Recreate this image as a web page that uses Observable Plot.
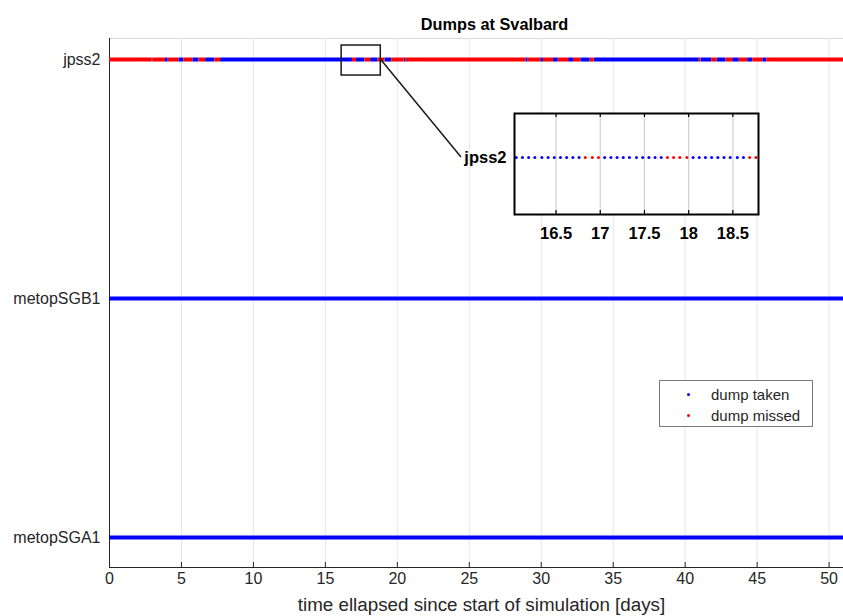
<!DOCTYPE html>
<html>
<head>
<meta charset="utf-8">
<script src="https://cdn.jsdelivr.net/npm/d3@7"></script>
<script src="https://cdn.jsdelivr.net/npm/@observablehq/plot@0.6"></script>
<style>
  body { margin: 0; background: white; }
  #wrap { position: relative; width: 843px; height: 616px; font-family: "Liberation Sans", Arial, sans-serif; }
  #wrap svg { position: absolute; overflow: visible; }
  #legend { position: absolute; left: 659px; top: 380px; width: 154px; height: 47px; border: 1px solid #7a7a7a; background: white; box-sizing: border-box; font-size: 15px; color: #262626; }
  #legend .row { position: absolute; left: 0; height: 18px; line-height: 18px; }
  #legend .dot { position: absolute; left: 27px; top: 7px; width: 3px; height: 3px; border-radius: 50%; }
  #legend .lab { position: absolute; left: 51px; top: 0; white-space: nowrap; }
</style>
</head>
<body>
<div id="wrap"></div>
<script>
// ---------------- data ----------------
const title = "Dumps at Svalbard";
const xLabel = "time ellapsed since start of simulation [days]";
const sats = ["metopSGA1", "metopSGB1", "jpss2"];
const xTicks = [0, 5, 10, 15, 20, 25, 30, 35, 40, 45, 50];
const xDomain = [0, 51];

// jpss2: runs of missed / taken dumps [start, end] in days
const jpss2Missed = [[0, 2.95], [3.0, 3.89], [4.08, 4.82], [5.17, 5.79], [6.21, 6.68], [7.32, 7.72],
  [16.88, 17.16], [17.75, 18.15], [18.66, 19.14], [19.61, 20.47], [20.58, 28.93],
  [29.09, 29.97], [30.15, 30.85], [31.18, 31.9], [32.24, 32.75], [33.4, 33.68],
  [40.98, 41.1], [41.84, 42.21], [42.84, 43.3], [43.76, 44.34], [44.69, 45.39], [45.67, 51]];
const jpss2Taken = [[2.95, 3.0], [3.89, 4.08], [4.82, 5.17], [5.79, 6.21], [6.68, 7.32], [7.72, 16.88],
  [17.16, 17.75], [18.15, 18.66], [19.14, 19.61], [20.47, 20.58], [28.93, 29.09],
  [29.97, 30.15], [30.85, 31.18], [31.9, 32.24], [32.75, 33.4], [33.68, 40.98],
  [41.1, 41.84], [42.21, 42.84], [43.3, 43.76], [44.34, 44.69], [45.39, 45.67]];
const metopSGB1Taken = [[0, 51]];
const metopSGA1Taken = [[0, 51]];

// zoomed window
const zoomBoxX = [16.13, 18.85];
const insetDomain = [16.03, 18.79];
const insetTicks = [16.5, 17, 17.5, 18, 18.5];
const insetTimes = [16.05, 16.12, 16.19, 16.26, 16.34, 16.41, 16.48, 16.55, 16.62, 16.69, 16.76,
  16.83, 16.91, 16.98,
  17.05, 17.12, 17.19, 17.26, 17.33, 17.41, 17.48, 17.55, 17.62, 17.69,
  17.76, 17.83, 17.90, 17.98,
  18.05, 18.12, 18.19, 18.26, 18.33, 18.40, 18.47, 18.55, 18.62,
  18.69, 18.76];
const insetStatus = ["taken","taken","taken","taken","taken","taken","taken","taken","taken","taken","taken",
  "missed","missed","missed",
  "taken","taken","taken","taken","taken","taken","taken","taken","taken","taken",
  "missed","missed","missed","missed",
  "taken","taken","taken","taken","taken","taken","taken","taken","taken",
  "missed","missed"];

const legendItems = ["dump taken", "dump missed"];
const colors = {taken: "#0000ff", missed: "#ff0000"};

// ---------------- build tables ----------------
const segs = [];
const addSegs = (arr, sat, status) => arr.forEach(([a, b]) => segs.push({sat, y: sats.indexOf(sat) + 1, x1: a, x2: b, status}));
addSegs(metopSGA1Taken, "metopSGA1", "taken");
addSegs(metopSGB1Taken, "metopSGB1", "taken");
addSegs(jpss2Taken, "jpss2", "taken");
addSegs(jpss2Missed, "jpss2", "missed");
const insetPts = insetTimes.map((t, i) => ({t, status: insetStatus[i]}));
const jY = sats.indexOf("jpss2") + 1;

const font = "'Liberation Sans', Arial, Helvetica, sans-serif";
const W = 843, H = 616, mL = 109, mR = 0, mT = 38, mB = 49;
const innerH = H - mT - mB;

const main = Plot.plot({
  width: W, height: H,
  marginLeft: mL, marginRight: mR, marginTop: mT, marginBottom: mB,
  style: {fontFamily: font, background: "transparent", overflow: "visible"},
  x: {domain: xDomain},
  y: {domain: [0.874, 3.088]},
  marks: [
    Plot.frame({anchor: "top", stroke: "#d9d9d9"}),
    Plot.gridX(xTicks, {stroke: "#e6e6e6", strokeOpacity: 1, strokeWidth: 1}),
    Plot.ruleX(xTicks, {stroke: "#262626", insetTop: innerH - 5}),
    Plot.frame({anchor: "left", stroke: "#262626"}),
    Plot.frame({anchor: "bottom", stroke: "#262626"}),
    Plot.ruleY(segs, {y: "y", x1: "x1", x2: "x2", stroke: d => colors[d.status], strokeWidth: 4}),
    Plot.rect([zoomBoxX], {x1: d => d[0], x2: d => d[1], y1: jY, y2: jY, insetTop: -14, insetBottom: -16, stroke: "#1a1a1a", strokeWidth: 1.5, fill: "none"}),
    Plot.axisX(xTicks, {tickSize: 0, tickPadding: 5, fontSize: 16, color: "#262626", label: null}),
    Plot.axisY([1, 2, 3], {tickSize: 0, tickPadding: 9, fontSize: 16, color: "#262626", tickFormat: i => sats[i - 1], label: null}),
    Plot.text([title], {frameAnchor: "top", dx: 18, dy: -20, fontSize: 16.3, fontWeight: "bold", fill: "#000"}),
    Plot.text([xLabel], {frameAnchor: "bottom", dx: 5, dy: 43, fontSize: 18.8, fill: "#262626"})
  ]
});

// inset
const iL = 60, iR = 5, iT = 5, iB = 36, iW = 244, iH = 101;
const inset = Plot.plot({
  width: iL + iW + iR, height: iT + iH + iB,
  marginLeft: iL, marginRight: iR, marginTop: iT, marginBottom: iB,
  style: {fontFamily: font, background: "transparent", overflow: "visible"},
  x: {domain: insetDomain},
  y: {domain: [0.43, 1.44]},
  marks: [
    Plot.frame({fill: "white", stroke: null}),
    Plot.gridX(insetTicks, {stroke: "#d0d0d0", strokeOpacity: 1, strokeWidth: 1.2}),
    Plot.ruleX(insetTicks, {stroke: "#000", insetTop: iH - 4, strokeWidth: 1.2}),
    Plot.ruleX(insetTicks, {stroke: "#000", insetBottom: iH - 4, strokeWidth: 1.2}),
    Plot.dot(insetPts, {x: "t", y: () => 1, r: 1.5, fill: d => colors[d.status], stroke: null}),
    Plot.frame({stroke: "#000", strokeWidth: 2}),
    Plot.axisX(insetTicks, {tickSize: 0, tickPadding: 13, fontSize: 16.5, fontWeight: "bold", color: "#000", tickFormat: d => String(d), label: null}),
    Plot.axisY([1], {tickSize: 0, tickPadding: 8, fontSize: 16.5, fontWeight: "bold", color: "#000", tickFormat: () => "jpss2", label: null})
  ]
});

const wrap = document.getElementById("wrap");
main.style.left = "0px"; main.style.top = "0px";
wrap.appendChild(main);
const insetLeft = 514 - iL, insetTop = 113 - iT;
inset.style.left = insetLeft + "px"; inset.style.top = insetTop + "px";
wrap.appendChild(inset);

// connector line from zoom box to inset label
const sx = main.scale("x"), sy = main.scale("y");
const ex = insetLeft + iL - 53, ey = insetTop + inset.scale("y").apply(1);
d3.select(main).append("line")
  .attr("x1", sx.apply(zoomBoxX[1])).attr("y1", sy.apply(jY))
  .attr("x2", ex).attr("y2", ey)
  .attr("stroke", "#1a1a1a").attr("stroke-width", 1.5);

// legend
const leg = document.createElement("div");
leg.id = "legend";
legendItems.forEach((lab, i) => {
  const row = document.createElement("div");
  row.className = "row";
  row.style.top = (5 + i * 21) + "px";
  row.style.width = "100%";
  const dot = document.createElement("span");
  dot.className = "dot";
  dot.style.background = i === 0 ? colors.taken : colors.missed;
  const t = document.createElement("span");
  t.className = "lab";
  t.textContent = lab;
  row.appendChild(dot); row.appendChild(t);
  leg.appendChild(row);
});
wrap.appendChild(leg);
</script>
</body>
</html>
